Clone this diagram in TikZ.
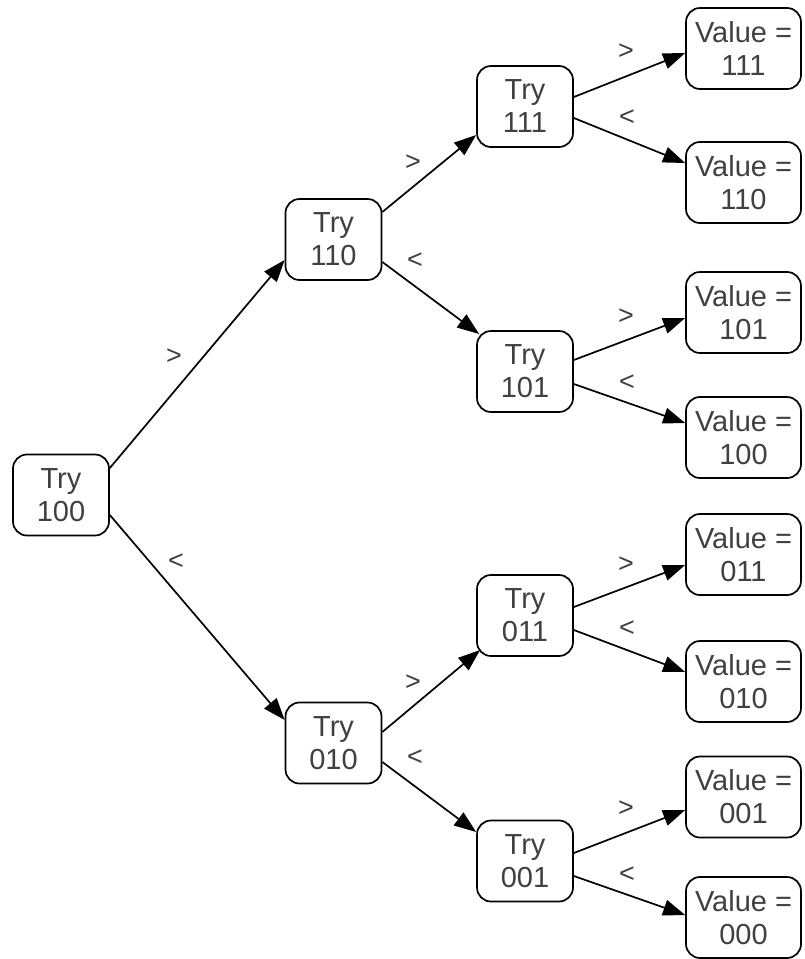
\documentclass[tikz,border=0pt]{standalone}
\usepackage{fontspec}
\setmainfont{Liberation Sans}
\usetikzlibrary{arrows.meta}
\begin{document}
\begin{tikzpicture}[x=1pt,y=-1pt,
  box/.style={draw, line width=1.7pt, rounded corners=14pt, align=center, inner sep=0pt,
    font=\fontsize{29}{33}\selectfont, text=black!75},
  trybox/.style={box, minimum width=96pt, minimum height=81pt},
  valbox/.style={box, minimum width=115pt, minimum height=81pt},
  conn/.style={line width=1.7pt, -{Triangle[length=22pt,width=16pt]}},
  lbl/.style={font=\fontsize{27}{27}\selectfont, inner sep=0pt, text=black!75}]
\useasboundingbox (0,0) rectangle (804,959);

% Try nodes
\node[trybox] (t100) at (61,495) {Try\\100};
\node[trybox] (t110) at (333.5,239.5) {Try\\110};
\node[trybox] (t010) at (333.5,743) {Try\\010};
\node[trybox] (t111) at (525,106.5) {Try\\111};
\node[trybox] (t101) at (525,371.5) {Try\\101};
\node[trybox] (t011) at (525,615.5) {Try\\011};
\node[trybox] (t001) at (525,861) {Try\\001};

% Value nodes
\node[valbox] (v111) at (743.5,48.5) {Value =\\111};
\node[valbox] (v110) at (743.5,182.5) {Value =\\110};
\node[valbox] (v101) at (743.5,312.5) {Value =\\101};
\node[valbox] (v100) at (743.5,437.5) {Value =\\100};
\node[valbox] (v011) at (743.5,554.5) {Value =\\011};
\node[valbox] (v010) at (743.5,681.5) {Value =\\010};
\node[valbox] (v001) at (743.5,797) {Value =\\001};
\node[valbox] (v000) at (743.5,917.5) {Value =\\000};

% Connectors
\draw[conn] ([yshift=27pt]t100.east) -- ([yshift=-20.5pt]t110.west);
\draw[conn] ([yshift=-20pt]t100.east) -- ([yshift=23pt]t010.west);
\draw[conn] ([yshift=27.5pt]t110.east) -- ([yshift=-28.5pt]t111.west);
\draw[conn] ([yshift=-22.5pt]t110.east) -- ([xshift=3pt,yshift=37.5pt]t101.west);
\draw[conn] ([yshift=11pt]t010.east) -- ([xshift=4pt,yshift=-34.5pt]t011.west);
\draw[conn] ([yshift=-19pt]t010.east) -- ([yshift=29pt]t001.west);

\draw[conn] ([yshift=9.5pt]t111.east) -- ([yshift=-4.5pt]v111.west);
\draw[conn] ([yshift=-11.5pt]t111.east) -- ([yshift=19.5pt]v110.west);
\draw[conn] ([yshift=11.5pt]t101.east) -- ([yshift=-5.5pt]v101.west);
\draw[conn] ([yshift=-12.5pt]t101.east) -- ([yshift=14.5pt]v100.west);
\draw[conn] ([yshift=8.5pt]t011.east) -- ([yshift=-10.5pt]v011.west);
\draw[conn] ([yshift=-14.5pt]t011.east) -- ([yshift=9.5pt]v010.west);
\draw[conn] ([yshift=8pt]t001.east) -- ([yshift=-13pt]v001.west);
\draw[conn] ([yshift=-15pt]t001.east) -- ([yshift=2.5pt]v000.west);

% Labels
\node[lbl] (l1) at (174,357) {>};
\node[lbl] (l2) at (176,562) {<};
\node[lbl] (l3) at (413,163) {>};
\node[lbl] (l4) at (415,261) {<};
\node[lbl] (l5) at (626,52) {>};
\node[lbl] (l6) at (627,118) {<};
\node[lbl] (l7) at (626,317) {>};
\node[lbl] (l8) at (627,383) {<};
\node[lbl] (l9) at (413,683) {>};
\node[lbl] (l10) at (415,758) {<};
\node[lbl] (l11) at (626,565) {>};
\node[lbl] (l12) at (627,629) {<};
\node[lbl] (l13) at (626,809) {>};
\node[lbl] (l14) at (627,875) {<};
\end{tikzpicture}
\end{document}
